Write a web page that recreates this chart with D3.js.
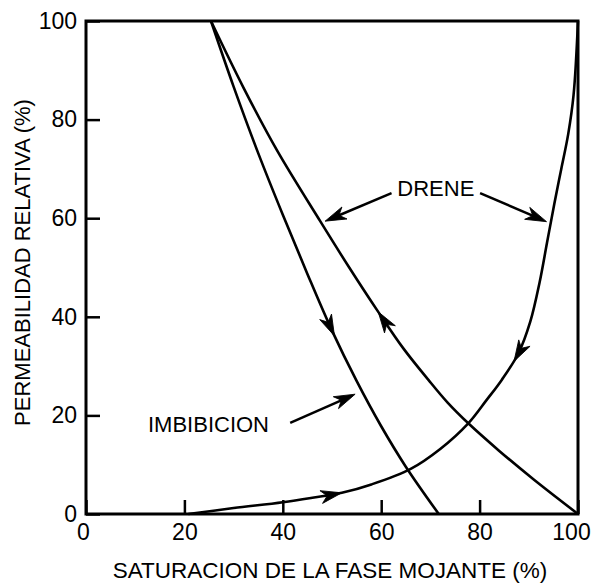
<!DOCTYPE html>
<html>
<head>
<meta charset="utf-8">
<script src="https://cdn.jsdelivr.net/npm/d3@7"></script>
<style>
  body { margin: 0; background: #fff; }
  svg text { font-family: "Liberation Sans", Arial, sans-serif; fill: #000; }
</style>
</head>
<body>
<div id="app"></div>
<script>
// curves: [saturacion, permeabilidad]
let imbibicion = [[25.4, 100], [30, 86.7], [35, 73.2], [40, 60.7], [45, 48.7], [50, 37.2], [55, 27], [60, 17.8], [65, 9.6], [71.7, 0]];
let dreneNoMojante = [[25.4, 100], [32, 86.5], [38.8, 73.8], [47.6, 59.4], [53.5, 50], [59.4, 41], [64.5, 33.6], [69.6, 27.2], [73.5, 22.6], [77.7, 18.4], [84, 12.8], [91, 7], [100, 0]];
let dreneMojante = [[20.8, 0], [30, 1.2], [40, 2.4], [46, 3.3], [52, 4.3], [58, 6.0], [65.9, 9.1], [72, 13.2], [77.7, 18.4], [81.4, 23.1], [84.5, 27.2], [87.9, 32.6], [90.3, 39], [92.2, 47], [93.7, 55], [95.2, 63], [96.6, 70], [98, 77], [99.1, 85], [100, 100]];

let xTicks = [0, 20, 40, 60, 80, 100];
let yTicks = [0, 20, 40, 60, 80, 100];

// arrows sitting on the curves: which curve, x of the tip, direction along the curve
let curveArrows = [
    {curve: 0, x: 50.5, dir: 1},
    {curve: 1, x: 59.4, dir: -1},
    {curve: 2, x: 52, dir: 1},
    {curve: 2, x: 87, dir: -1}
];

// labels with their pointer arrows
let labels = [
    {text: 'DRENE', x: 71.1, y: 64.5, anchor: 'middle'},
    {text: 'IMBIBICION', x: 12.6, y: 16.7, anchor: 'start'}
];
let pointers = [
    {from: [62.1, 65.1], to: [48.6, 59.4]},
    {from: [80.1, 65.1], to: [93.6, 59.3]},
    {from: [41.5, 18.5], to: [54.7, 24.3]}
];

let svgWidth = 595;
let svgHeight = 584;

let margin = {top: 21, right: 17, bottom: 70, left: 86},
    width = svgWidth - margin.left - margin.right,
    height = svgHeight - margin.top - margin.bottom;

let svg = d3.select('#app').append('svg')
    .attr('width', svgWidth)
    .attr('height', svgHeight);

let g = svg.append('g')
    .attr('transform', `translate(${margin.left},${margin.top})`);

let x = d3.scaleLinear().domain([0, 100]).range([0, width]);
let y = d3.scaleLinear().domain([0, 100]).range([height, 0]);

        //axes with inward ticks
let xAxis = g.append('g')
    .attr('transform', `translate(0,${height})`)
    .call(d3.axisBottom(x).tickValues(xTicks).tickSize(-14).tickPadding(10));
let yAxis = g.append('g')
    .call(d3.axisLeft(y).tickValues(yTicks).tickSize(-14).tickPadding(9));

[xAxis, yAxis].forEach(a => {
    a.select('.domain').remove();
    a.selectAll('line').attr('stroke', '#000').attr('stroke-width', 2.5);
    a.selectAll('text').style('font-size', '23px');
});
        //the end labels sit a little inside, as in the print
xAxis.selectAll('.tick text').attr('dx', d => d === 100 ? -7 : (d === 0 ? -3 : 0));

        //frame
g.append('rect')
    .attr('width', width)
    .attr('height', height)
    .attr('fill', 'none')
    .attr('stroke', '#000')
    .attr('stroke-width', 3);

        //curves
let line = d3.line()
    .x(d => x(d[0]))
    .y(d => y(d[1]))
    .curve(d3.curveCatmullRom.alpha(0.5));

let paths = g.selectAll('.curve')
    .data([imbibicion, dreneNoMojante, dreneMojante])
    .enter().append('path')
        .attr('class', 'curve')
        .attr('d', line)
        .attr('fill', 'none')
        .attr('stroke', '#000')
        .attr('stroke-width', 2.6);

let headPath = 'M0,0 L-21,-6.5 L-15,0 L-21,6.5 Z';

function drawHead(px, py, angle) {
    g.append('path')
        .attr('d', headPath)
        .attr('fill', '#000')
        .attr('stroke', '#000')
        .attr('stroke-width', 0.8)
        .attr('stroke-linejoin', 'miter')
        .attr('transform', `translate(${px},${py}) rotate(${angle * 180 / Math.PI})`);
}

        //heads on the curves, oriented along the path
curveArrows.forEach(a => {
    let node = paths.nodes()[a.curve];
    let total = node.getTotalLength();
    let target = x(a.x);
    let lo = 0, hi = total;
    for (let i = 0; i < 40; i++) {
        let mid = (lo + hi) / 2;
        if (node.getPointAtLength(mid).x < target) lo = mid; else hi = mid;
    }
    let p = node.getPointAtLength(lo);
    let q = node.getPointAtLength(Math.max(0, Math.min(total, lo - a.dir * 6)));
    drawHead(p.x, p.y, Math.atan2(p.y - q.y, p.x - q.x));
});

        //labels and pointer arrows
g.selectAll('.label')
    .data(labels)
    .enter().append('text')
        .attr('class', 'label')
        .attr('x', d => x(d.x))
        .attr('y', d => y(d.y))
        .attr('text-anchor', d => d.anchor)
        .style('font-size', '22px')
        .text(d => d.text);

pointers.forEach(p => {
    let x1 = x(p.from[0]), y1 = y(p.from[1]), x2 = x(p.to[0]), y2 = y(p.to[1]);
    let ang = Math.atan2(y2 - y1, x2 - x1);
    g.append('line')
        .attr('x1', x1).attr('y1', y1)
        .attr('x2', x2 - 12 * Math.cos(ang)).attr('y2', y2 - 12 * Math.sin(ang))
        .attr('stroke', '#000')
        .attr('stroke-width', 2.5);
    drawHead(x2, y2, ang);
});

        //axis titles
svg.append('text')
    .attr('x', margin.left + width / 2 - 2)
    .attr('y', 578)
    .attr('text-anchor', 'middle')
    .style('font-size', '22.5px')
    .text('SATURACION DE LA FASE MOJANTE (%)');

svg.append('text')
    .attr('transform', `translate(30,${margin.top + height / 2 - 5}) rotate(-90)`)
    .attr('text-anchor', 'middle')
    .style('font-size', '22px')
    .text('PERMEABILIDAD RELATIVA (%)');
</script>
</body>
</html>
